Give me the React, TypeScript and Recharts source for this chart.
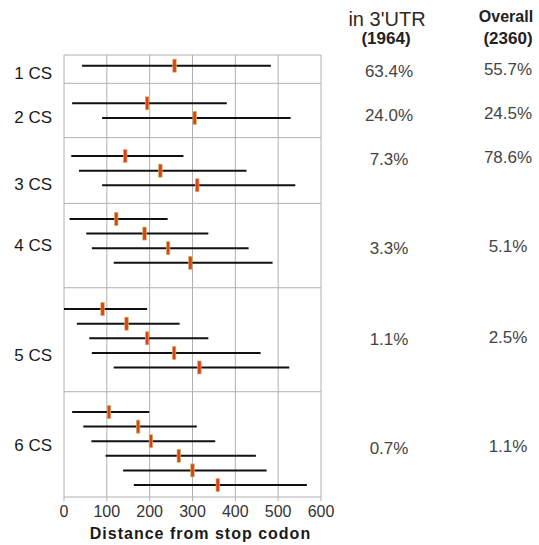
import { ScatterChart, Scatter, XAxis, YAxis, CartesianGrid, ReferenceLine, Label } from 'recharts';

// groups of consecutive stop codons
const groups = ['1 CS', '2 CS', '3 CS', '4 CS', '5 CS', '6 CS'];

// per group, one range per row: low end, median, high end (distance from stop codon)
const rowLow = [[42], [19, 89], [17, 35, 89], [13, 52, 65, 116], [0, 30, 59, 65, 116], [19, 45, 64, 97, 138, 163]];
const rowMedian = [[258], [194, 305], [143, 225, 311], [122, 188, 243, 295], [90, 146, 194, 257, 316], [105, 173, 203, 268, 300, 359]];
const rowHigh = [[483], [380, 529], [279, 426, 540], [242, 337, 431, 487], [194, 270, 337, 459, 526], [199, 310, 353, 448, 473, 567]];

// share of each group
const utrPct = ['63.4%', '24.0%', '7.3%', '3.3%', '1.1%', '0.7%'];
const overallPct = ['55.7%', '24.5%', '78.6%', '5.1%', '2.5%', '1.1%'];

const xTicks = [0, 100, 200, 300, 400, 500, 600];

// vertical layout in row units (top = 0)
const groupFirstRow = [0.73, 3.31, 6.92, 11.23, 17.4, 24.45];
const groupLabelAt = [1.25, 4.25, 8.8, 13.0, 20.55, 26.7];
const groupBounds = [0, 1.94, 5.66, 10.16, 15.94, 23.06];
const yMax = 30.27;

const rows = rowLow.flatMap((lows, g) =>
  lows.map((low, i) => ({
    y: groupFirstRow[g] + i,
    low,
    median: rowMedian[g][i],
    high: rowHigh[g][i],
  }))
);
const medians = rows.map((r) => ({ x: r.median, y: r.y }));

const pctRowsY = [71, 115, 159, 248, 339, 448];

const MedianMark = (props: any) => {
  const { cx, cy } = props;
  if (cx == null || cy == null) return <g />;
  return <rect x={cx - 1.75} y={cy - 6.5} width={3.5} height={13} fill="#e63d19" stroke="#c4bd6a" strokeWidth={0.7} />;
};

const groupLabel = (v: number) => {
  const i = groupLabelAt.indexOf(v);
  return i >= 0 ? groups[i] : '';
};

const font = '"Liberation Sans", Arial, sans-serif';

export default function App() {
  const centered = (x: number, y: number): React.CSSProperties => ({
    position: 'absolute',
    left: x,
    top: y,
    transform: 'translate(-50%, -50%)',
    whiteSpace: 'nowrap',
    lineHeight: 1,
  });

  return (
    <div style={{ position: 'absolute', left: 0, top: 0, width: 539, height: 545, background: '#fff', fontFamily: font }}>
      <ScatterChart width={539} height={545} margin={{ top: 55, right: 218, bottom: 0, left: 0 }}>
        <CartesianGrid horizontal={false} stroke="#b0b0b0" />
        <XAxis
          type="number"
          dataKey="x"
          domain={[0, 600]}
          ticks={xTicks}
          height={48}
          stroke="#b0b0b0"
          tickSize={4}
          tickMargin={5}
          tick={{ fill: '#333', fontSize: 16, fontFamily: font }}
        >
          <Label
            value="Distance from stop codon"
            position="insideBottom"
            offset={6}
            dx={8}
            fill="#1a1a1a"
            fontSize={16}
            fontWeight="bold"
            letterSpacing={1}
            fontFamily={font}
          />
        </XAxis>
        <YAxis
          type="number"
          dataKey="y"
          domain={[0, yMax]}
          reversed
          width={64}
          ticks={groupLabelAt}
          tickFormatter={groupLabel}
          axisLine={false}
          tickLine={false}
          tickSize={0}
          tickMargin={12}
          tick={{ fill: '#1a1a1a', fontSize: 17, fontFamily: font }}
          interval={0}
        />
        {groupBounds.map((b) => (
          <ReferenceLine key={b} y={b} stroke="#b0b0b0" />
        ))}
        {rows.map((r, i) => (
          <Scatter
            key={i}
            data={[{ x: r.low, y: r.y }, { x: r.high, y: r.y }]}
            line={{ stroke: '#111', strokeWidth: 2 }}
            lineType="joint"
            shape={() => <g />}
            isAnimationActive={false}
          />
        ))}
        <Scatter data={medians} shape={<MedianMark />} isAnimationActive={false} />
      </ScatterChart>

      <div style={{ ...centered(387, 19), fontSize: 20, color: '#33291a' }}>in 3'UTR</div>
      <div style={{ ...centered(386, 38), fontSize: 17, fontWeight: 'bold', color: '#222' }}>(1964)</div>
      <div style={{ ...centered(506, 17), fontSize: 16, fontWeight: 'bold', color: '#222' }}>Overall</div>
      <div style={{ ...centered(508, 38), fontSize: 17, fontWeight: 'bold', color: '#222' }}>(2360)</div>
      {utrPct.map((p, i) => (
        <div key={'u' + i} style={{ ...centered(389, pctRowsY[i]), fontSize: 17, color: '#444' }}>{p}</div>
      ))}
      {overallPct.map((p, i) => (
        <div key={'o' + i} style={{ ...centered(508, pctRowsY[i] - 2), fontSize: 17, color: '#444' }}>{p}</div>
      ))}
    </div>
  );
}
